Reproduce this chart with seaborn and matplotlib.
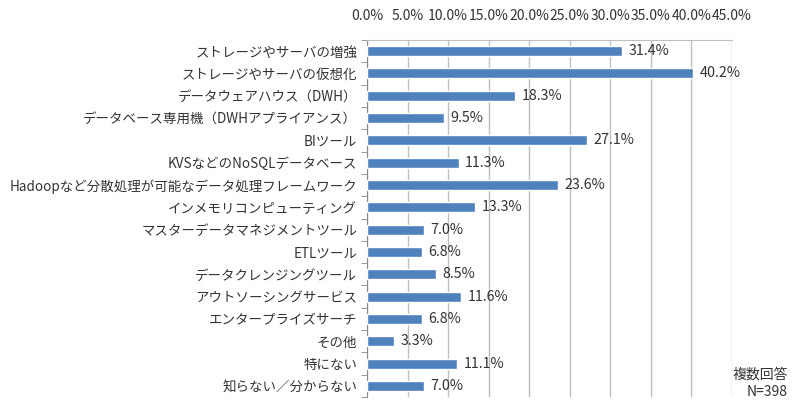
import matplotlib
matplotlib.use("Agg")
import matplotlib.pyplot as plt
import seaborn as sns
import pandas as pd
from matplotlib.ticker import MultipleLocator, FuncFormatter

# data
items = [
    "ストレージやサーバの増強",
    "ストレージやサーバの仮想化",
    "データウェアハウス（DWH）",
    "データベース専用機（DWHアプライアンス）",
    "BIツール",
    "KVSなどのNoSQLデータベース",
    "Hadoopなど分散処理が可能なデータ処理フレームワーク",
    "インメモリコンピューティング",
    "マスターデータマネジメントツール",
    "ETLツール",
    "データクレンジングツール",
    "アウトソーシングサービス",
    "エンタープライズサーチ",
    "その他",
    "特にない",
    "知らない／分からない",
]
pct = [31.4, 40.2, 18.3, 9.5, 27.1, 11.3, 23.6, 13.3, 7.0, 6.8, 8.5, 11.6, 6.8, 3.3, 11.1, 7.0]

df = pd.DataFrame({"item": items, "pct": pct})

sns.set_style("white")
plt.rcParams["font.family"] = ["Noto Sans CJK JP", "DejaVu Sans"]

fig = plt.figure(figsize=(8, 4.07), dpi=100)
ax = fig.add_axes([367 / 800, 10 / 407, 365 / 800, 357 / 407])

sns.barplot(data=df, x="pct", y="item", color="#4F81BD", width=0.45,
            saturation=1, ax=ax, zorder=3)

for i, v in enumerate(pct):
    ax.text(v + 0.8, i, f"{v:.1f}%", va="center", ha="left", fontsize=10.3, color="#333333")

ax.set_xlim(0, 45)
ax.xaxis.set_major_locator(MultipleLocator(5))
ax.xaxis.set_major_formatter(FuncFormatter(lambda x, p: f"{x:.1f}%"))
ax.xaxis.tick_top()
ax.tick_params(axis="x", length=0, pad=12, labelsize=10, labelcolor="#333333")
ax.grid(axis="x", color="#BFBFBF", linewidth=1, zorder=0)
ax.set_xlabel("")
ax.set_ylabel("")

# category ticks between bars, pointing out
ax.set_yticks([i - 0.5 for i in range(len(items) + 1)], minor=True)
ax.tick_params(axis="y", which="minor", length=4, color="#888888", left=True)
ax.tick_params(axis="y", which="major", length=0, pad=7, labelsize=9.7, labelcolor="#333333")
ax.set_ylim(len(items) - 0.5, -0.5)

for s in ["right", "bottom"]:
    ax.spines[s].set_visible(False)
ax.spines["left"].set_color("#888888")
ax.spines["top"].set_color("#BFBFBF")

fig.text(788 / 800, 1 - 383 / 407, "複数回答\nN=398", ha="right", va="center",
         fontsize=10, color="#333333", linespacing=1.3)

fig.savefig("out.png", dpi=100)
